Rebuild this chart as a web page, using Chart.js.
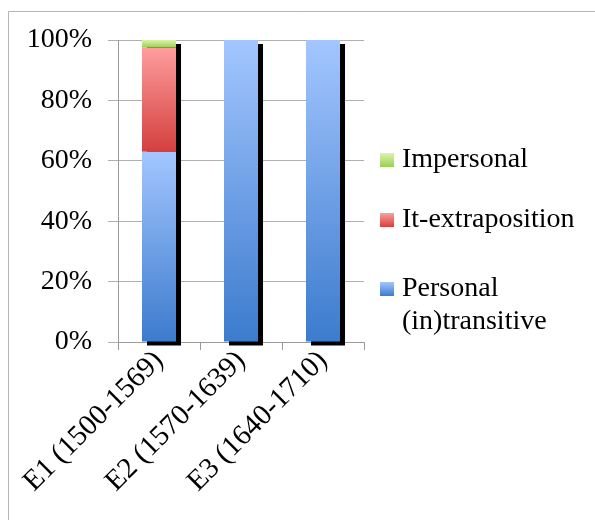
<!DOCTYPE html>
<html>
<head>
<meta charset="utf-8">
<script src="https://cdn.jsdelivr.net/npm/chart.js@4/dist/chart.umd.min.js"></script>
<style>
  html, body { margin: 0; padding: 0; background: #fff; }
  #wrap { width: 595px; height: 520px; position: relative; }
</style>
</head>
<body>
<div id="wrap"><canvas id="c" width="595" height="520"></canvas></div>
<script>
// Periods and share of each construction type (percent)
const periods = ['E1 (1500-1569)', 'E2 (1570-1639)', 'E3 (1640-1710)'];
const personal = [63, 100, 100];
const itExtraposition = [34.5, 0, 0];
const impersonal = [2.5, 0, 0];
const yTicks = [0, 20, 40, 60, 80, 100];

// Vertical gradient stops for each series: [top, bottom]
const shades = {
  'Personal (in)transitive': ['#a3c6ff', '#3c7bcd'],
  'It-extraposition': ['#ff9d9d', '#d43f3f'],
  'Impersonal': ['#dbf6a6', '#9acd58']
};

const FONT = '"Liberation Serif", "Times New Roman", serif';

function gradientFor(ctx, label, top, bottom) {
  const g = ctx.createLinearGradient(0, top, 0, bottom);
  g.addColorStop(0, shades[label][0]);
  g.addColorStop(1, shades[label][1]);
  return g;
}

// Gradient spanning just this stacked segment, located through the y scale
function segmentFill(c) {
  const chart = c.chart;
  const label = chart.data.datasets[c.datasetIndex].label;
  const yScale = chart.scales.y;
  if (!chart.chartArea || !yScale) return shades[label][1];
  let start = 0;
  for (let d = 0; d < c.datasetIndex; d++) start += chart.data.datasets[d].data[c.dataIndex];
  const end = start + chart.data.datasets[c.datasetIndex].data[c.dataIndex];
  const top = yScale.getPixelForValue(end);
  const bottom = yScale.getPixelForValue(start);
  if (bottom - top < 0.5) return shades[label][1];
  return gradientFor(chart.ctx, label, top, bottom);
}

// Black drop shadow behind each stack
const barShadow = {
  id: 'barShadow',
  beforeDatasetsDraw(chart) {
    const ctx = chart.ctx;
    const metas = chart.data.datasets.map((d, i) => chart.getDatasetMeta(i));
    ctx.save();
    ctx.fillStyle = '#000';
    periods.forEach((p, i) => {
      let top = Infinity, base = 0, x = 0, w = 0;
      metas.forEach(meta => {
        const el = meta.data[i];
        top = Math.min(top, el.y);
        base = Math.max(base, el.base);
        x = el.x; w = el.width;
      });
      ctx.fillRect(x - w / 2 + 5, top + 4, w, base - top);
    });
    ctx.restore();
  }
};

// Right-hand legend (top item = last series) and the frame lines
const sideLegend = {
  id: 'sideLegend',
  afterDraw(chart) {
    const ctx = chart.ctx;
    ctx.save();
    const items = [
      { label: 'Impersonal', lines: ['Impersonal'], y: 160 },
      { label: 'It-extraposition', lines: ['It-extraposition'], y: 220 },
      { label: 'Personal (in)transitive', lines: ['Personal', '(in)transitive'], y: 289 }
    ];
    ctx.font = '28px ' + FONT;
    ctx.textBaseline = 'middle';
    ctx.textAlign = 'left';
    items.forEach(it => {
      const s = 14;
      ctx.fillStyle = gradientFor(ctx, it.label, it.y - s / 2, it.y + s / 2);
      ctx.fillRect(380, it.y - s / 2, s, s);
      ctx.fillStyle = '#000';
      it.lines.forEach((t, k) => ctx.fillText(t, 402, it.y + k * 33));
    });
    ctx.strokeStyle = '#b5b5b5';
    ctx.lineWidth = 1;
    ctx.beginPath();
    ctx.moveTo(8.5, 520);
    ctx.lineTo(8.5, 11.5);
    ctx.lineTo(595, 11.5);
    ctx.stroke();
    ctx.restore();
  }
};

const series = [
  { label: 'Personal (in)transitive', data: personal },
  { label: 'It-extraposition', data: itExtraposition },
  { label: 'Impersonal', data: impersonal }
];

new Chart(document.getElementById('c'), {
  type: 'bar',
  data: {
    labels: periods,
    datasets: series.map(s => ({
      label: s.label,
      data: s.data,
      backgroundColor: segmentFill,
      borderWidth: 0,
      categoryPercentage: 1,
      barPercentage: 0.415
    }))
  },
  options: {
    responsive: false,
    animation: false,
    layout: { padding: { left: 0, top: 40, right: 231, bottom: 0 } },
    plugins: { legend: { display: false }, tooltip: { enabled: false } },
    scales: {
      x: {
        stacked: true,
        grid: { offset: true, drawOnChartArea: false, drawTicks: true, tickLength: 8, color: '#9a9a9a' },
        border: { color: '#9a9a9a' },
        ticks: {
          autoSkip: false, minRotation: 45, maxRotation: 45, padding: -6,
          color: '#000', font: { family: FONT, size: 29 }
        },
        afterFit(scale) { scale.height = 178; }
      },
      y: {
        stacked: true,
        min: 0, max: 100,
        afterBuildTicks(scale) { scale.ticks = yTicks.map(v => ({ value: v })); },
        grid: { color: '#b0b0b0', tickLength: 10 },
        border: { color: '#9a9a9a' },
        ticks: {
          padding: 16, color: '#000', font: { family: FONT, size: 28 },
          callback: v => v + '%'
        },
        afterFit(scale) { scale.width = 118; }
      }
    }
  },
  plugins: [barShadow, sideLegend]
});
</script>
</body>
</html>
